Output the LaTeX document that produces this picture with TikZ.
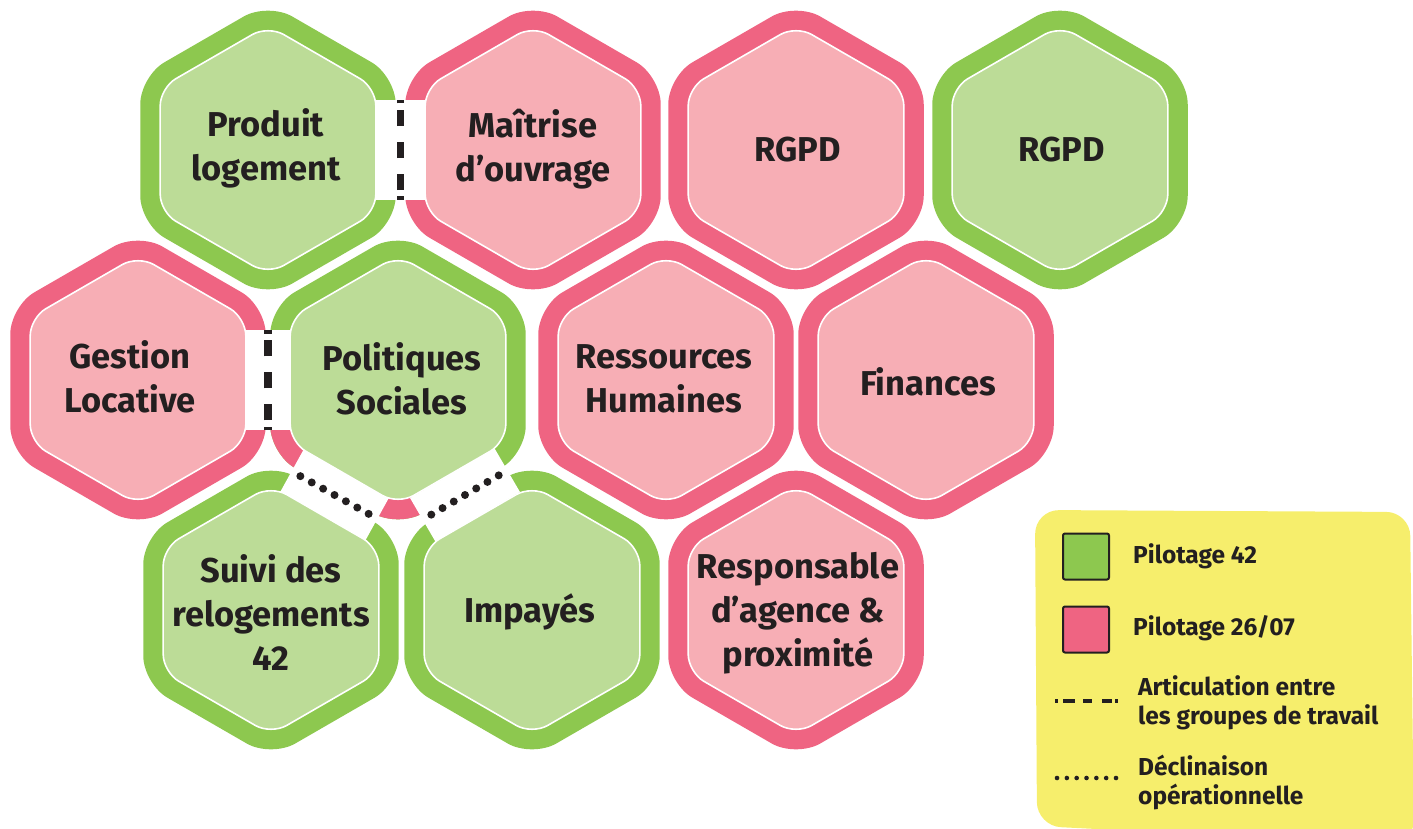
\documentclass[tikz,border=0pt]{standalone}
\usepackage{fontspec}
\setmainfont{Fira Sans}
\usetikzlibrary{calc}
\definecolor{gO}{HTML}{8DC84F}
\definecolor{gI}{HTML}{BCDC97}
\definecolor{pO}{HTML}{EF6482}
\definecolor{pI}{HTML}{F7AEB5}
\definecolor{ink}{HTML}{231F20}
\definecolor{legy}{HTML}{F6EE6C}
\begin{document}
\begin{tikzpicture}[x=1pt,y=-1pt,
  hexp/.style n args={3}{insert path={(#1+#3*0.866025,#2) -- (#1+#3*0.866025,#2+#3*0.5) -- (#1,#2+#3) -- (#1-#3*0.866025,#2+#3*0.5) -- (#1-#3*0.866025,#2-#3*0.5) -- (#1,#2-#3) -- (#1+#3*0.866025,#2-#3*0.5) -- cycle}},
  ring/.style={rounded corners=28pt},
  core/.style={rounded corners=18pt, draw=white, line width=1.6pt},
  lbl/.style={font=\bfseries\fontsize{34.5}{44}\selectfont, text=ink, align=center, inner sep=0pt},
  band/.style={white, line width=50pt},
  dashln/.style={ink, line width=7.5pt, dash pattern=on 3.5pt off 6.25pt on 16.5pt off 15.5pt on 16.5pt off 15.5pt on 16.5pt off 6.25pt on 3.5pt off 20pt},
  legtxt/.style={font=\bfseries\fontsize{24.5}{29}\selectfont, text=ink, align=left, anchor=west, inner sep=0pt},
  legsq/.style={draw=ink, line width=2pt, rounded corners=2pt, minimum size=46pt, inner sep=0pt},
]
\useasboundingbox (0,0) rectangle (1413,829);

% hexagon centres
\foreach \n/\x/\y in {prod/268/150, mai/533/150, rgpdp/796/150, rgpdg/1060/150,
                      gest/138/380, poli/398/380, rh/666/380, fin/926/380,
                      suivi/271/610, imp/532/610, resp/796/610}
  \coordinate (\n) at (\x,\y);

% outer rings
\foreach \x/\y in {268/150, 1060/150, 398/380, 271/610, 532/610}
  \fill[gO, ring, hexp={\x}{\y}{147.5}];
\foreach \x/\y in {533/150, 796/150, 138/380, 666/380, 926/380, 796/610}
  \fill[pO, ring, hexp={\x}{\y}{147.5}];
\begin{scope}
  \clip (250,425) rectangle (440,545);
  \fill[pO, ring, hexp={398}{380}{147.5}];
\end{scope}

% white bands of the connectors
\coordinate (m1) at ($(prod)!0.5!(mai)$);
\coordinate (m2) at ($(gest)!0.5!(poli)$);
\coordinate (m3) at ($(poli)!0.5!(suivi)$);
\coordinate (m4) at ($(poli)!0.5!(imp)$);
\draw[band] ($(m1)!50pt!90:(mai)$) -- ($(m1)!50pt!-90:(mai)$);
\draw[band] ($(m2)!50pt!90:(poli)$) -- ($(m2)!50pt!-90:(poli)$);
\draw[band] ($(m3)!49pt!90:(suivi)$) -- ($(m3)!49pt!-90:(suivi)$);
\draw[band] ($(m4)!49pt!90:(imp)$) -- ($(m4)!49pt!-90:(imp)$);

% inner cores
\foreach \x/\y in {268/150, 1060/150, 398/380, 271/610, 532/610}
  \path[fill=gI, core, hexp={\x}{\y}{124.5}];
\foreach \x/\y in {533/150, 796/150, 138/380, 666/380, 926/380, 796/610}
  \path[fill=pI, core, hexp={\x}{\y}{124.5}];

% connectors
\draw[dashln] ($(m1)!50pt!-90:(mai)$) -- ($(m1)!50pt!90:(mai)$);
\draw[dashln] ($(m2)!50pt!-90:(poli)$) -- ($(m2)!50pt!90:(poli)$);
\foreach \dd in {-39,-26,-13,0,13,26,39}{
  \fill[ink] ($(m3)!\dd pt!90:(suivi)$) circle (4pt);
  \fill[ink] ($(m4)!\dd pt!90:(imp)$) circle (4pt);
}

% labels
\node[lbl] (prodL) at (266,148) {Produit\\logement};
\node[lbl] (maiL) at (533,149) {Maîtrise\\d'ouvrage};
\node[lbl] (rgpdpL) at (798,150) {RGPD};
\node[lbl] (rgpdgL) at (1062,150) {RGPD};
\node[lbl] (gestL) at (130,377) {Gestion\\Locative};
\node[lbl] (poliL) at (402,379) {Politiques\\Sociales};
\node[lbl] (rhL) at (664,379) {Ressources\\Humaines};
\node[lbl] (finL) at (928,382) {Finances};
\node[lbl] (suiviL) at (271,613) {Suivi des\\relogements\\42};
\node[lbl] (impL) at (530,612) {Impayés};
\node[lbl] (respL) at (798,613) {Responsable\\d'agence \&\\proximité};

% legend
\fill[legy, rounded corners=24pt] (1221,511) -- (1410,512) -- (1414,845) -- (1037,826) -- (1035,510) -- cycle;
\node[legsq, fill=gO] (sqg) at (1086,556.5) {};
\node[legsq, fill=pO] (sqp) at (1086,629.5) {};
\node[legtxt] (tg) at (1133,556) {Pilotage 42};
\node[legtxt] (tp) at (1133,628) {Pilotage 26/07};
\node[legtxt] (ta) at (1138,703) {Articulation entre\\les groupes de travail};
\node[legtxt] (td) at (1138,782) {Déclinaison\\opérationnelle};
\coordinate (la1) at (1055,701);
\coordinate (la2) at (1118,701);
\draw[ink, line width=4pt, dash pattern=on 3pt off 5pt on 12pt off 8pt on 9pt off 10pt on 10pt off 3pt on 3pt off 10pt] (la1) -- (la2);
\coordinate (ld1) at (1057,778);
\coordinate (ld2) at (1116,778);
\foreach \dd in {0,...,6}
  \fill[ink] ($(ld1)!\dd/6!(ld2)$) circle (2.3pt);
\end{tikzpicture}
\end{document}
